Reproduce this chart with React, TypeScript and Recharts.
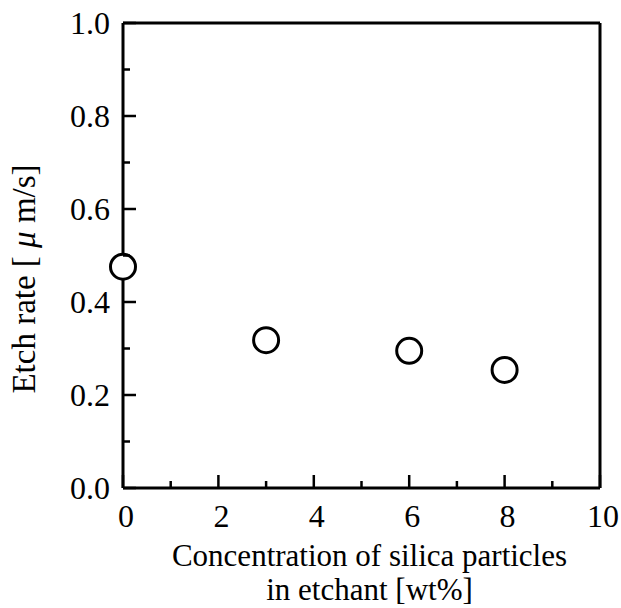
import React from 'react'
import {
  ScatterChart,
  Scatter,
  XAxis,
  YAxis,
  Label,
} from 'recharts'

// silica concentration [wt%] and measured etch rate [um/s]
const concentration = [0, 3, 6, 8]
const etchRate = [0.476, 0.318, 0.295, 0.254]

const xTicks = [0, 1, 2, 3, 4, 5, 6, 7, 8, 9, 10]
const yTicks = [0, 0.1, 0.2, 0.3, 0.4, 0.5, 0.6, 0.7, 0.8, 0.9, 1.0]

const points = concentration.map((c, i) => ({ x: c, y: etchRate[i] }))

const FONT = '"Liberation Serif", "Times New Roman", serif'
const MAJOR = 13
const MINOR = 7

const isMajorX = (v: number) => Math.round(v) % 2 === 0
const isMajorY = (v: number) => Math.round(v * 10) % 2 === 0

const BottomTick = ({ x, y, payload }: any) => {
  const major = isMajorX(payload.value)
  return (
    <g>
      <line x1={x} y1={y} x2={x} y2={y - (major ? MAJOR : MINOR)} stroke="#000" strokeWidth={2.5} />
      {major && (
        <text x={x + 3} y={y + 39} textAnchor="middle" fontFamily={FONT} fontSize={32} fill="#000">
          {payload.value}
        </text>
      )}
    </g>
  )
}

const TopTick = ({ x, y, payload }: any) => {
  const major = isMajorX(payload.value)
  return <line x1={x} y1={y} x2={x} y2={y + (major ? MAJOR : MINOR)} stroke="#000" strokeWidth={2.5} />
}

const LeftTick = ({ x, y, payload }: any) => {
  const major = isMajorY(payload.value)
  return (
    <g>
      <line x1={x} y1={y} x2={x + (major ? MAJOR : MINOR)} y2={y} stroke="#000" strokeWidth={2.5} />
      {major && (
        <text x={x - 13} y={y + 11} textAnchor="end" fontFamily={FONT} fontSize={32} fill="#000">
          {payload.value.toFixed(1)}
        </text>
      )}
    </g>
  )
}

const RightTick = ({ x, y, payload }: any) => {
  const major = isMajorY(payload.value)
  return <line x1={x} y1={y} x2={x - (major ? MAJOR : MINOR)} y2={y} stroke="#000" strokeWidth={2.5} />
}

const XTitle = ({ viewBox }: any) => {
  const cx = viewBox.x + viewBox.width / 2 + 8
  return (
    <text textAnchor="middle" fontFamily={FONT} fontSize={31} fill="#000">
      <tspan x={cx} y={viewBox.y + 78}>Concentration of silica particles</tspan>
      <tspan x={cx} y={viewBox.y + 112}>in etchant [wt%]</tspan>
    </text>
  )
}

const YTitle = ({ viewBox }: any) => {
  const x = viewBox.x + 35
  const y = viewBox.y + 256
  return (
    <text
      x={x}
      y={y}
      transform={`rotate(-90, ${x}, ${y})`}
      textAnchor="middle"
      fontFamily={FONT}
      fontSize={33}
      fill="#000"
    >
      Etch rate [ <tspan fontStyle="italic">μ</tspan> m/s]
    </text>
  )
}

const OpenCircle = ({ cx, cy }: any) => (
  <circle cx={cx} cy={cy} r={12.5} fill="#fff" stroke="#000" strokeWidth={3} />
)

const axisLine = { stroke: '#000', strokeWidth: 3 }

export default function App() {
  return (
    <div style={{ position: 'absolute', left: 0, top: 0, background: '#fff' }}>
      <ScatterChart
        width={621}
        height={608}
        margin={{ top: 22, right: 20, bottom: 0, left: 0 }}
      >
        <XAxis
          xAxisId="bottom"
          type="number"
          dataKey="x"
          domain={[0, 10]}
          ticks={xTicks}
          interval={0}
          height={120}
          tickSize={0}
          tickMargin={0}
          tickLine={false}
          axisLine={axisLine}
          tick={<BottomTick />}
        >
          <Label content={<XTitle />} />
        </XAxis>
        <XAxis
          xAxisId="top"
          orientation="top"
          type="number"
          dataKey="x"
          domain={[0, 10]}
          ticks={xTicks}
          interval={0}
          height={1}
          tickSize={0}
          tickMargin={0}
          tickLine={false}
          axisLine={axisLine}
          tick={<TopTick />}
        />
        <YAxis
          yAxisId="left"
          type="number"
          dataKey="y"
          domain={[0, 1]}
          ticks={yTicks}
          interval={0}
          width={123}
          tickSize={0}
          tickMargin={0}
          tickLine={false}
          axisLine={axisLine}
          tick={<LeftTick />}
        >
          <Label content={<YTitle />} />
        </YAxis>
        <YAxis
          yAxisId="right"
          orientation="right"
          type="number"
          dataKey="y"
          domain={[0, 1]}
          ticks={yTicks}
          interval={0}
          width={1}
          tickSize={0}
          tickMargin={0}
          tickLine={false}
          axisLine={axisLine}
          tick={<RightTick />}
        />
        <Scatter
          xAxisId="bottom"
          yAxisId="left"
          data={points}
          shape={<OpenCircle />}
          isAnimationActive={false}
        />
      </ScatterChart>
    </div>
  )
}
